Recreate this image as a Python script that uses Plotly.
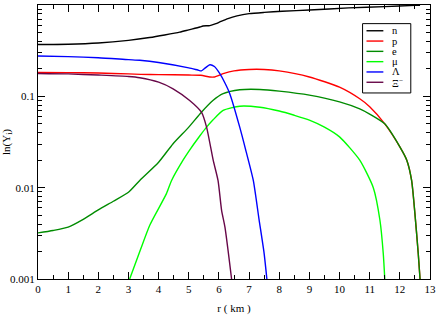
import plotly.graph_objects as go

# ---- data ----
r_n = [0, 1, 2, 3, 3.7, 4.2, 4.7, 5.0, 5.37, 5.47, 5.7, 5.9, 6.03, 6.3, 6.6, 7.0, 7.5, 8.1, 9.0, 10.3, 11.5, 12.5, 12.67]
y_n = [0.37, 0.372, 0.383, 0.41, 0.44, 0.47, 0.505, 0.535, 0.574, 0.589, 0.595, 0.625, 0.652, 0.71, 0.76, 0.804, 0.83, 0.853, 0.88, 0.93, 0.96, 0.99, 0.995]

r_p = [0, 1, 2, 3, 3.4, 4, 5, 5.4, 5.7, 5.85, 6.14, 6.5, 7.0, 7.5, 8.0, 9.0, 10.0, 10.67, 11.0, 11.5, 12.0, 12.23, 12.39, 12.5, 12.61, 12.67]
y_p = [0.183, 0.182, 0.18, 0.176, 0.174, 0.173, 0.171, 0.17, 0.163, 0.163, 0.177, 0.19, 0.197, 0.197, 0.19, 0.163, 0.126, 0.094, 0.077, 0.05, 0.028, 0.02, 0.012, 0.0052, 0.0019, 0.001]

r_e = [0, 0.5, 1, 1.5, 2, 2.5, 3, 3.375, 4.0, 4.48, 5.0, 5.42, 5.8, 6.14, 6.69, 7.36, 8.0, 9.0, 10.0, 10.67, 11.0, 11.5, 12.0, 12.23, 12.39, 12.5, 12.61, 12.67]
y_e = [0.0032, 0.0034, 0.0037, 0.0045, 0.0057, 0.0071, 0.0089, 0.012, 0.019, 0.0303, 0.046, 0.067, 0.09, 0.107, 0.118, 0.119, 0.114, 0.103, 0.087, 0.073, 0.064, 0.05, 0.028, 0.02, 0.012, 0.0052, 0.0019, 0.001]

r_mu = [3.04, 3.4, 3.71, 4.26, 4.43, 4.81, 5.0, 5.37, 5.59, 5.8, 6.14, 6.69, 7.36, 8.0, 8.5, 9.0, 9.5, 10.0, 10.67, 11.12, 11.34, 11.45, 11.5]
y_mu = [0.001, 0.0021, 0.0039, 0.0086, 0.012, 0.020, 0.025, 0.037, 0.046, 0.055, 0.070, 0.078, 0.076, 0.069, 0.062, 0.055, 0.046, 0.036, 0.020, 0.010, 0.0044, 0.0019, 0.001]

r_L = [0, 1, 2, 3, 3.375, 4, 5.0, 5.3, 5.42, 5.55, 5.7, 5.85, 6.03, 6.2, 6.36, 6.69, 6.9, 7.14, 7.33, 7.5, 7.59]
y_L = [0.276, 0.272, 0.265, 0.252, 0.248, 0.235, 0.205, 0.194, 0.19, 0.205, 0.222, 0.212, 0.177, 0.14, 0.107, 0.046, 0.025, 0.012, 0.0045, 0.0019, 0.001]

r_X = [0, 1, 2, 3, 3.375, 4.0, 4.48, 5.03, 5.42, 5.59, 5.81, 5.97, 6.09, 6.2, 6.42]
y_X = [0.178, 0.176, 0.171, 0.165, 0.16, 0.143, 0.121, 0.090, 0.067, 0.046, 0.020, 0.012, 0.0056, 0.0037, 0.001]

names = ["n", "p", "e", "\u03bc", "\u039b", "\u039e<sup>\u2212</sup>"]
colors = ["#000000", "#ff0000", "#008b00", "#00ff00", "#0000ff", "#670748"]
series = [(r_n, y_n), (r_p, y_p), (r_e, y_e), (r_mu, y_mu), (r_L, y_L), (r_X, y_X)]

x_ticks = list(range(0, 14))
y_ticks = [0.001, 0.01, 0.1, 1]
y_ticktext = ["0.001", "0.01", "0.1", "1"]
y_minor = [m * 10 ** d for d in (-3, -2, -1) for m in range(2, 10)]

FONT = "Liberation Serif"

fig = go.Figure()
for (xs, ys), nm, c in zip(series, names, colors):
    fig.add_trace(go.Scatter(x=xs, y=ys, mode="lines", name=nm,
                             line=dict(color=c, width=1.4, shape="spline", smoothing=0.6),
                             showlegend=False))

# ---- manual legend (compact, like the reference) ----
lx0, lx1, ltx = 0.838, 0.881, 0.898
ly_top, ly_step = 0.906, 0.0376
shapes = [dict(type="rect", xref="paper", yref="paper", x0=0.828, x1=0.951,
               y0=0.679, y1=0.932, line=dict(color="black", width=1),
               fillcolor="white", layer="above")]
annotations = []
for i, (nm, c) in enumerate(zip(names, colors)):
    yy = ly_top - i * ly_step
    shapes.append(dict(type="line", xref="paper", yref="paper", x0=lx0, x1=lx1,
                       y0=yy, y1=yy, line=dict(color=c, width=1.4), layer="above"))
    annotations.append(dict(xref="paper", yref="paper", x=ltx, y=yy, text=nm,
                            showarrow=False, xanchor="left", yanchor="middle",
                            font=dict(family=FONT, size=10.5, color="black")))

fig.update_layout(
    width=436, height=316,
    margin=dict(l=38, r=6, t=5, b=37, autoexpand=False),
    paper_bgcolor="white", plot_bgcolor="white",
    font=dict(family=FONT, size=11, color="black"),
    shapes=shapes, annotations=annotations,
)
fig.update_xaxes(range=[0, 13], tickvals=x_ticks, ticks="inside", ticklen=7,
                 tickcolor="black", showline=True, linecolor="black", linewidth=1,
                 mirror="ticks", showgrid=False, zeroline=False, automargin=False,
                 minor=dict(dtick=0.5, ticks="inside", ticklen=4, tickcolor="black", showgrid=False),
                 title=dict(text="r ( km )", font=dict(family=FONT, size=11), standoff=10))
fig.update_yaxes(type="log", range=[-3, 0], tickvals=y_ticks, ticktext=y_ticktext,
                 ticks="inside", ticklen=7, tickcolor="black", showline=True,
                 linecolor="black", linewidth=1, mirror="ticks", showgrid=False,
                 zeroline=False, automargin=False,
                 minor=dict(tickvals=y_minor, ticks="inside", ticklen=4, tickcolor="black", showgrid=False),
                 title=dict(text="ln(Y<sub>i</sub>)", font=dict(family=FONT, size=11), standoff=4))

fig.write_html("out.html", config={"displayModeBar": False},
               post_script="document.body.style.margin='0';document.body.style.overflow='hidden';")
